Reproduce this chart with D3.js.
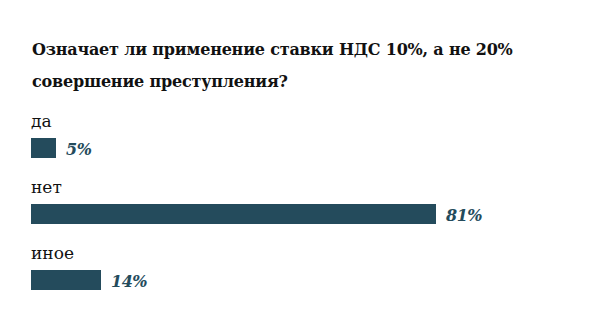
<!DOCTYPE html>
<html>
<head>
<meta charset="utf-8">
<script src="https://cdn.jsdelivr.net/npm/d3@7"></script>
<style>
  html, body { margin: 0; padding: 0; background: #fff; }
  svg { display: block; }
</style>
</head>
<body>
<svg id="chart" width="600" height="334"></svg>
<script>
// Survey answers and their shares, in percent
const categories = ["да", "нет", "иное"];
const values = [5, 81, 14];
const titleLines = ["Означает ли применение ставки НДС 10%, а не 20%", "совершение преступления?"];

const svg = d3.select("#chart");
const font = "'DejaVu Serif', 'Liberation Serif', serif";
const barColor = "#244b5c";

// Title
svg.append("g")
  .selectAll("text")
  .data(titleLines)
  .join("text")
  .attr("x", 32)
  .attr("y", (d, i) => 55 + i * 32)
  .attr("font-family", font)
  .attr("font-weight", "bold")
  .attr("font-size", 16)
  .attr("letter-spacing", -0.2)
  .attr("fill", "#111")
  .text(d => d);

const x = d3.scaleLinear().domain([0, 100]).range([0, 500]);
const y = d3.scaleBand().domain(categories).range([112, 310]).paddingInner(0).paddingOuter(0);

const rows = svg.append("g").attr("transform", "translate(31,0)")
  .selectAll("g")
  .data(categories.map((c, i) => ({ c, v: values[i] })))
  .join("g")
  .attr("transform", d => `translate(0,${y(d.c)})`);

rows.append("text")
  .attr("x", 0)
  .attr("y", 15)
  .attr("font-family", font)
  .attr("font-size", 17)
  .attr("fill", "#111")
  .text(d => d.c);

rows.append("rect")
  .attr("x", 0)
  .attr("y", 26)
  .attr("width", d => x(d.v))
  .attr("height", 20)
  .attr("fill", barColor);

rows.append("text")
  .attr("x", d => x(d.v) + 10)
  .attr("y", 43)
  .attr("font-family", font)
  .attr("font-style", "italic")
  .attr("font-weight", "bold")
  .attr("font-size", 16)
  .attr("letter-spacing", -0.5)
  .attr("fill", barColor)
  .text(d => d.v + "%");
</script>
</body>
</html>
